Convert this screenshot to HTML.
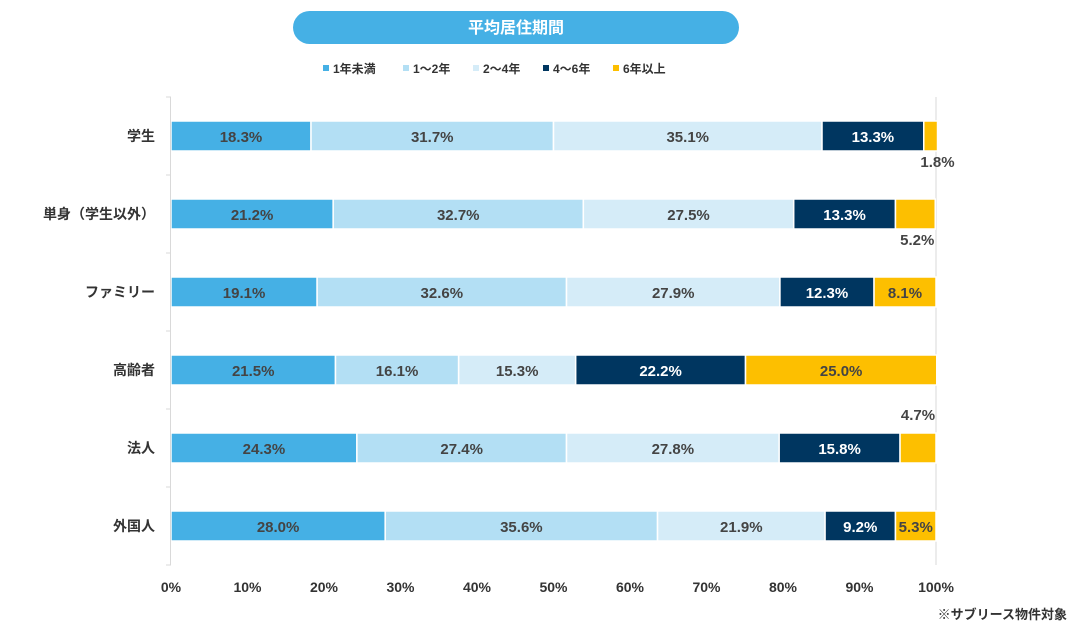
<!DOCTYPE html>
<html><head><meta charset="utf-8"><style>
body{margin:0;background:#fff;font-family:"Liberation Sans","Noto Sans CJK JP",sans-serif;}
</style></head><body>
<svg id="c" width="1073" height="627" xmlns="http://www.w3.org/2000/svg" font-family="Liberation Sans, Noto Sans CJK JP, sans-serif">
<rect x="293" y="11" width="446" height="33" rx="16.5" fill="#45b0e5"/>
<text x="516" y="33" text-anchor="middle" fill="#fff" font-size="16" font-weight="bold">平均居住期間</text>
<g id="legend"></g>
<g id="grid"></g><g id="bars"></g><g id="axes"></g>
<text x="1067" y="619" text-anchor="end" fill="#333" font-size="13" font-weight="bold">※サブリース物件対象</text>
</svg>
<script>
const categories=["学生","単身（学生以外）","ファミリー","高齢者","法人","外国人"];
const seriesNames=["1年未満","1～2年","2～4年","4～6年","6年以上"];
const s1=[18.3,21.2,19.1,21.5,24.3,28.0];
const s2=[31.7,32.7,32.6,16.1,27.4,35.6];
const s3=[35.1,27.5,27.9,15.3,27.8,21.9];
const s4=[13.3,13.3,12.3,22.2,15.8,9.2];
const s5=[1.8,5.2,8.1,25.0,4.7,5.3];
const outsideLabel=["below","below","","","above",""];
const xTicks=[0,10,20,30,40,50,60,70,80,90,100];
const colors=["#45b0e5","#b3dff4","#d5ecf8","#003660","#fdbf00"];
const txtCol=["#444","#444","#444","#fff","#444"];
const NS="http://www.w3.org/2000/svg";
const x0=171,x1=936,yTop=97,rowH=78,barH=30;
const xs=v=>x0+(x1-x0)*v/100;
const yc=i=>yTop+rowH*i+rowH/2;
function el(t,a,p){const e=document.createElementNS(NS,t);for(const k in a)e.setAttribute(k,a[k]);p.appendChild(e);return e;}
const G=document.getElementById('grid'),B=document.getElementById('bars'),A=document.getElementById('axes'),L=document.getElementById('legend');
let lx=323;
seriesNames.forEach((n,i)=>{
 const r=el('rect',{x:lx,y:65,width:6,height:6,fill:colors[i]},L);
 
 
 const t=el('text',{x:lx+10,y:73,'font-size':12,'font-weight':'bold',fill:'#333'},L);
 t.textContent=n;
 
 
 lx+=[80,70,70,70,0][i];
});
const gl=el('line',{x1:x1,x2:x1,y1:yTop,y2:yTop+rowH*6,stroke:'#d9d9d9'},G);


xTicks.forEach(v=>{
 const t=el('text',{x:xs(v),y:592,'text-anchor':'middle','font-size':14,'font-weight':'bold',fill:'#333'},A);
 t.textContent=v+'%';
 
 
});
const ax=el('line',{x1:x0-0.5,x2:x0-0.5,y1:yTop,y2:yTop+rowH*6,stroke:'#d9d9d9'},A);


for(let i=0;i<=6;i++){
 const tk=el('line',{x1:x0-5,x2:x0,y1:yTop+rowH*i,y2:yTop+rowH*i,stroke:'#d9d9d9'},A);
 
 
}
const series=[s1,s2,s3,s4,s5];
categories.forEach((c,i)=>{
 const t=el('text',{x:155,y:yc(i)+5,'text-anchor':'end','font-size':14,'font-weight':'bold',fill:'#333'},A);
 t.textContent=c;
 
 
 let cum=0;
 series.forEach((s,j)=>{
  const v=s[i],xa=xs(cum),xb=xs(cum+v);cum+=v;
  const r=el('rect',{x:xa,y:yc(i)-barH/2,width:Math.max(0,xb-xa),height:barH,fill:colors[j],stroke:'#fff','stroke-width':1.5},B);
  
  
  let ty=yc(i)+6,fill=txtCol[j],tx=(xa+xb)/2;
  if(j==4&&outsideLabel[i]){
   fill='#444';
   tx=(xb-xa)<20?xb:xb-18;
   ty=outsideLabel[i]=="above"?yc(i)-28:yc(i)+31;
  }
  const lt=el('text',{x:tx,y:ty,'text-anchor':'middle','font-size':15,'font-weight':'bold',fill:fill},B);
  lt.textContent=v.toFixed(1)+'%';
  
  
 });
});
</script>
</body></html>
